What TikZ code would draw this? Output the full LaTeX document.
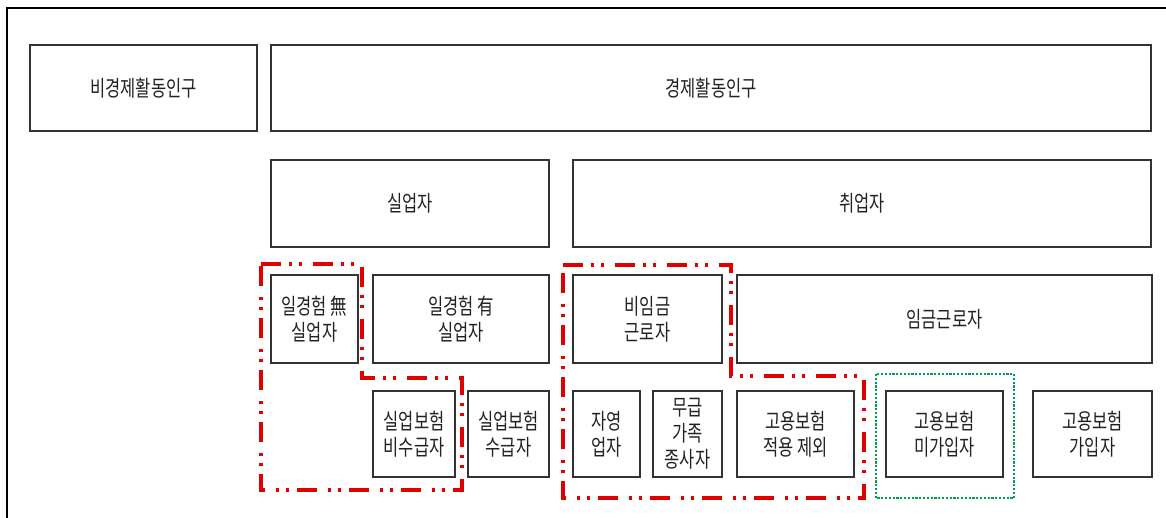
\documentclass[tikz,border=0pt]{standalone}
\usepackage{fontspec}
\newfontfamily\kr[FakeStretch=0.75]{Noto Sans CJK KR}
\definecolor{boxline}{HTML}{333333}
\definecolor{txt}{HTML}{222222}
\definecolor{redline}{HTML}{E00000}
\definecolor{greenline}{HTML}{00A050}
\tikzset{
  cell/.style={draw=boxline, line width=1.2pt, rectangle, inner sep=0pt, align=center,
    font=\kr\fontsize{22}{26}\selectfont, text=txt},
  redgroup/.style={draw=redline, line width=3.2pt,
    dash pattern=on 20pt off 8pt on 3pt off 7pt on 3pt off 11pt},
  greengroup/.style={draw=greenline, line width=2.8pt, dash pattern=on 2.2pt off 1.6pt},
  frameline/.style={draw=black, line width=1.6pt}
}
\newcommand{\bx}[6]{%
  \node[cell, minimum width={#4-#2}, minimum height={#5-#3}] (#1) at ({(#2+#4)/2},{(#3+#5)/2}) {#6};}
\begin{document}
\begin{tikzpicture}[x=1pt,y=-1pt]
\useasboundingbox (0,0) rectangle (1166,518);
\fill[white] (0,0) rectangle (1166,518);
\draw[frameline] (7,518) -- (7,8) -- (1166,8);
\bx{A}{30}{45}{257}{131}{비경제활동인구}
\bx{B}{271}{45}{1151}{131}{경제활동인구}
\bx{C}{271}{160}{549}{247}{실업자}
\bx{D}{573}{160}{1151}{247}{취업자}
\bx{E}{271}{275}{358}{363}{일경험 無\\실업자}
\bx{F}{373}{275}{549}{363}{일경험 有\\실업자}
\bx{G}{573}{275}{722}{363}{비임금\\근로자}
\bx{H}{737}{275}{1152}{363}{임금근로자}
\bx{I}{373}{391}{455}{477}{실업보험\\비수급자}
\bx{J}{468}{391}{549}{477}{실업보험\\수급자}
\bx{K}{573}{391}{640}{477}{자영\\업자}
\bx{L}{653}{391}{722}{477}{무급\\가족\\종사자}
\bx{M}{737}{391}{854}{477}{고용보험\\적용 제외}
\bx{N}{886}{391}{1003}{477}{고용보험\\미가입자}
\bx{O}{1033}{391}{1152}{477}{고용보험\\가입자}
\draw[redgroup] (261,264) -- (362,264) -- (362,378) -- (462,378) -- (462,490) -- (261,490) -- cycle;
\draw[redgroup] (563,265) -- (731,265) -- (731,376) -- (864,376) -- (864,498) -- (563,498) -- cycle;
\draw[greengroup] (876,374) rectangle (1014,498);
\end{tikzpicture}
\end{document}
